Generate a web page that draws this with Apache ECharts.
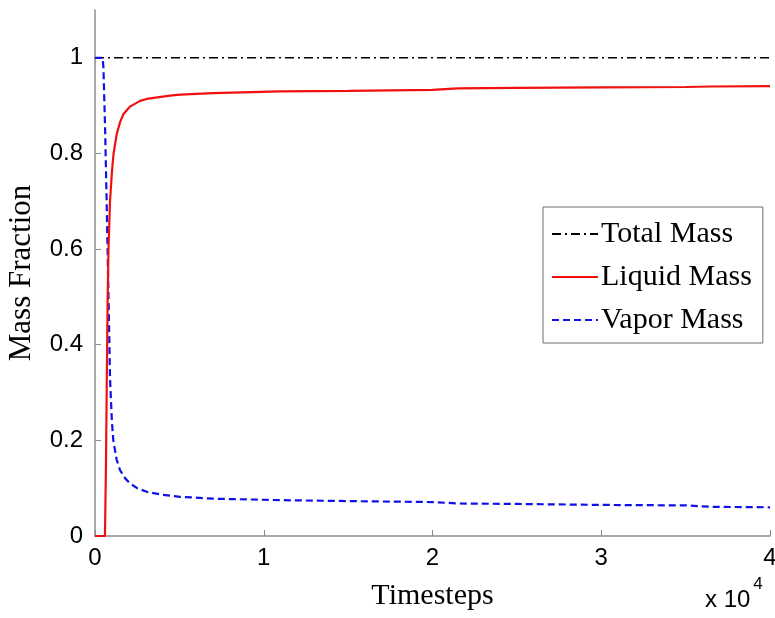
<!DOCTYPE html>
<html>
<head>
<meta charset="utf-8">
<script src="https://cdn.jsdelivr.net/npm/echarts@6/dist/echarts.min.js"></script>
<style>
  html, body { margin: 0; padding: 0; background: #fff; }
  #chart { width: 775px; height: 618px; }
</style>
</head>
<body>
<div id="chart"></div>
<script>
    // timesteps and mass fractions
    var totalT = [0, 40000]
    var totalMass = [1, 1]

    var liquidT = [0, 450, 590, 650, 700, 750, 800, 890, 1000, 1100, 1285, 1480, 1680, 2075, 2670, 3065, 4445, 5040, 7000, 10970, 15000, 20000, 21500, 25000, 30000, 35000, 36500, 40000]
    var liquidMass = [0, 0, 0, 0.15, 0.33, 0.5, 0.6, 0.70, 0.76, 0.80, 0.84, 0.865, 0.882, 0.898, 0.91, 0.914, 0.921, 0.923, 0.926, 0.930, 0.931, 0.933, 0.936, 0.937, 0.938, 0.939, 0.940, 0.941]

    var vaporT = [0, 450, 500, 600, 690, 800, 890, 1000, 1085, 1280, 1480, 1800, 2075, 2500, 3065, 4000, 5040, 7000, 10970, 15000, 20000, 21500, 25000, 30000, 35000, 36500, 40000]
    var vaporMass = [1, 1, 0.98, 0.85, 0.70, 0.5, 0.33, 0.24, 0.2, 0.16, 0.138, 0.12, 0.11, 0.10, 0.0925, 0.086, 0.082, 0.078, 0.075, 0.073, 0.071, 0.068, 0.067, 0.065, 0.064, 0.061, 0.06]

    var yTicks = [0, 0.2, 0.4, 0.6, 0.8, 1]

    function pairs (xs, ys) {
        return xs.map(function (x, i) { return [x, ys[i]] })
    }

    var dom = echarts.init(document.getElementById('chart'))
    var axisGray = '#8c8c8c'
    var option = {
        animation: false,
        grid: { left: 95, right: 5, top: 10, bottom: 82, outerBoundsMode: 'none' },
        xAxis: {
            type: 'value',
            min: 0,
            max: 40000,
            interval: 10000,
            name: 'Timesteps',
            nameLocation: 'middle',
            nameGap: 45,
            nameTextStyle: { fontFamily: 'Liberation Serif', fontSize: 30, color: '#000' },
            axisLine: { lineStyle: { color: axisGray, width: 1.5 } },
            axisTick: { inside: true, length: 6, lineStyle: { color: axisGray } },
            axisLabel: {
                fontFamily: 'Liberation Sans', fontSize: 24, color: '#000', margin: 10,
                formatter: function (v) { return v / 10000 }
            },
            splitLine: { show: false }
        },
        yAxis: {
            type: 'value',
            min: 0,
            max: 1.1,
            name: 'Mass Fraction',
            nameLocation: 'middle',
            nameGap: 58,
            nameTextStyle: { fontFamily: 'Liberation Serif', fontSize: 31, color: '#000' },
            axisLine: { lineStyle: { color: axisGray, width: 1.5 } },
            axisTick: { inside: true, length: 6, customValues: yTicks, lineStyle: { color: axisGray } },
            axisLabel: {
                fontFamily: 'Liberation Sans', fontSize: 24, color: '#000', margin: 12,
                customValues: yTicks
            },
            splitLine: { show: false }
        },
        legend: {
            left: 543,
            top: 207,
            orient: 'vertical',
            backgroundColor: '#fff',
            borderColor: '#6e6e6e',
            borderWidth: 1,
            borderRadius: 0,
            padding: [12, 11, 8, 8],
            itemWidth: 46,
            itemHeight: 14,
            itemGap: 13,
            itemStyle: { opacity: 0 },
            textStyle: { fontFamily: 'Liberation Serif', fontSize: 30, color: '#000', padding: [0, 0, 0, -2] },
            data: ['Total Mass', 'Liquid Mass', 'Vapor Mass']
        },
        graphic: [{
            type: 'text',
            left: 705,
            top: 576,
            style: {
                text: '{b|x 10}{s|4}',
                rich: {
                    b: { fontFamily: 'Liberation Sans', fontSize: 24, fill: '#000', padding: [12, 0, 0, 0] },
                    s: { fontFamily: 'Liberation Sans', fontSize: 17, fill: '#000', verticalAlign: 'top', padding: [0, 0, 0, 3] }
                }
            }
        }],
        series: [
            {
                name: 'Total Mass',
                type: 'line',
                symbol: 'none',
                z: 1,
                lineStyle: { color: '#000', width: 1.5, type: [9, 4, 2, 4] },
                itemStyle: { color: '#000' },
                data: pairs(totalT, totalMass)
            },
            {
                name: 'Liquid Mass',
                type: 'line',
                symbol: 'none',
                z: 3,
                lineStyle: { color: '#f01010', width: 2.2 },
                itemStyle: { color: '#f01010' },
                data: pairs(liquidT, liquidMass)
            },
            {
                name: 'Vapor Mass',
                type: 'line',
                symbol: 'none',
                z: 2,
                lineStyle: { color: '#1010e8', width: 2.2, type: [7, 4] },
                itemStyle: { color: '#1010e8' },
                data: pairs(vaporT, vaporMass)
            }
        ]
    }
    dom.setOption(option)
    window.addEventListener('resize', function () { dom.resize() })
</script>
</body>
</html>
